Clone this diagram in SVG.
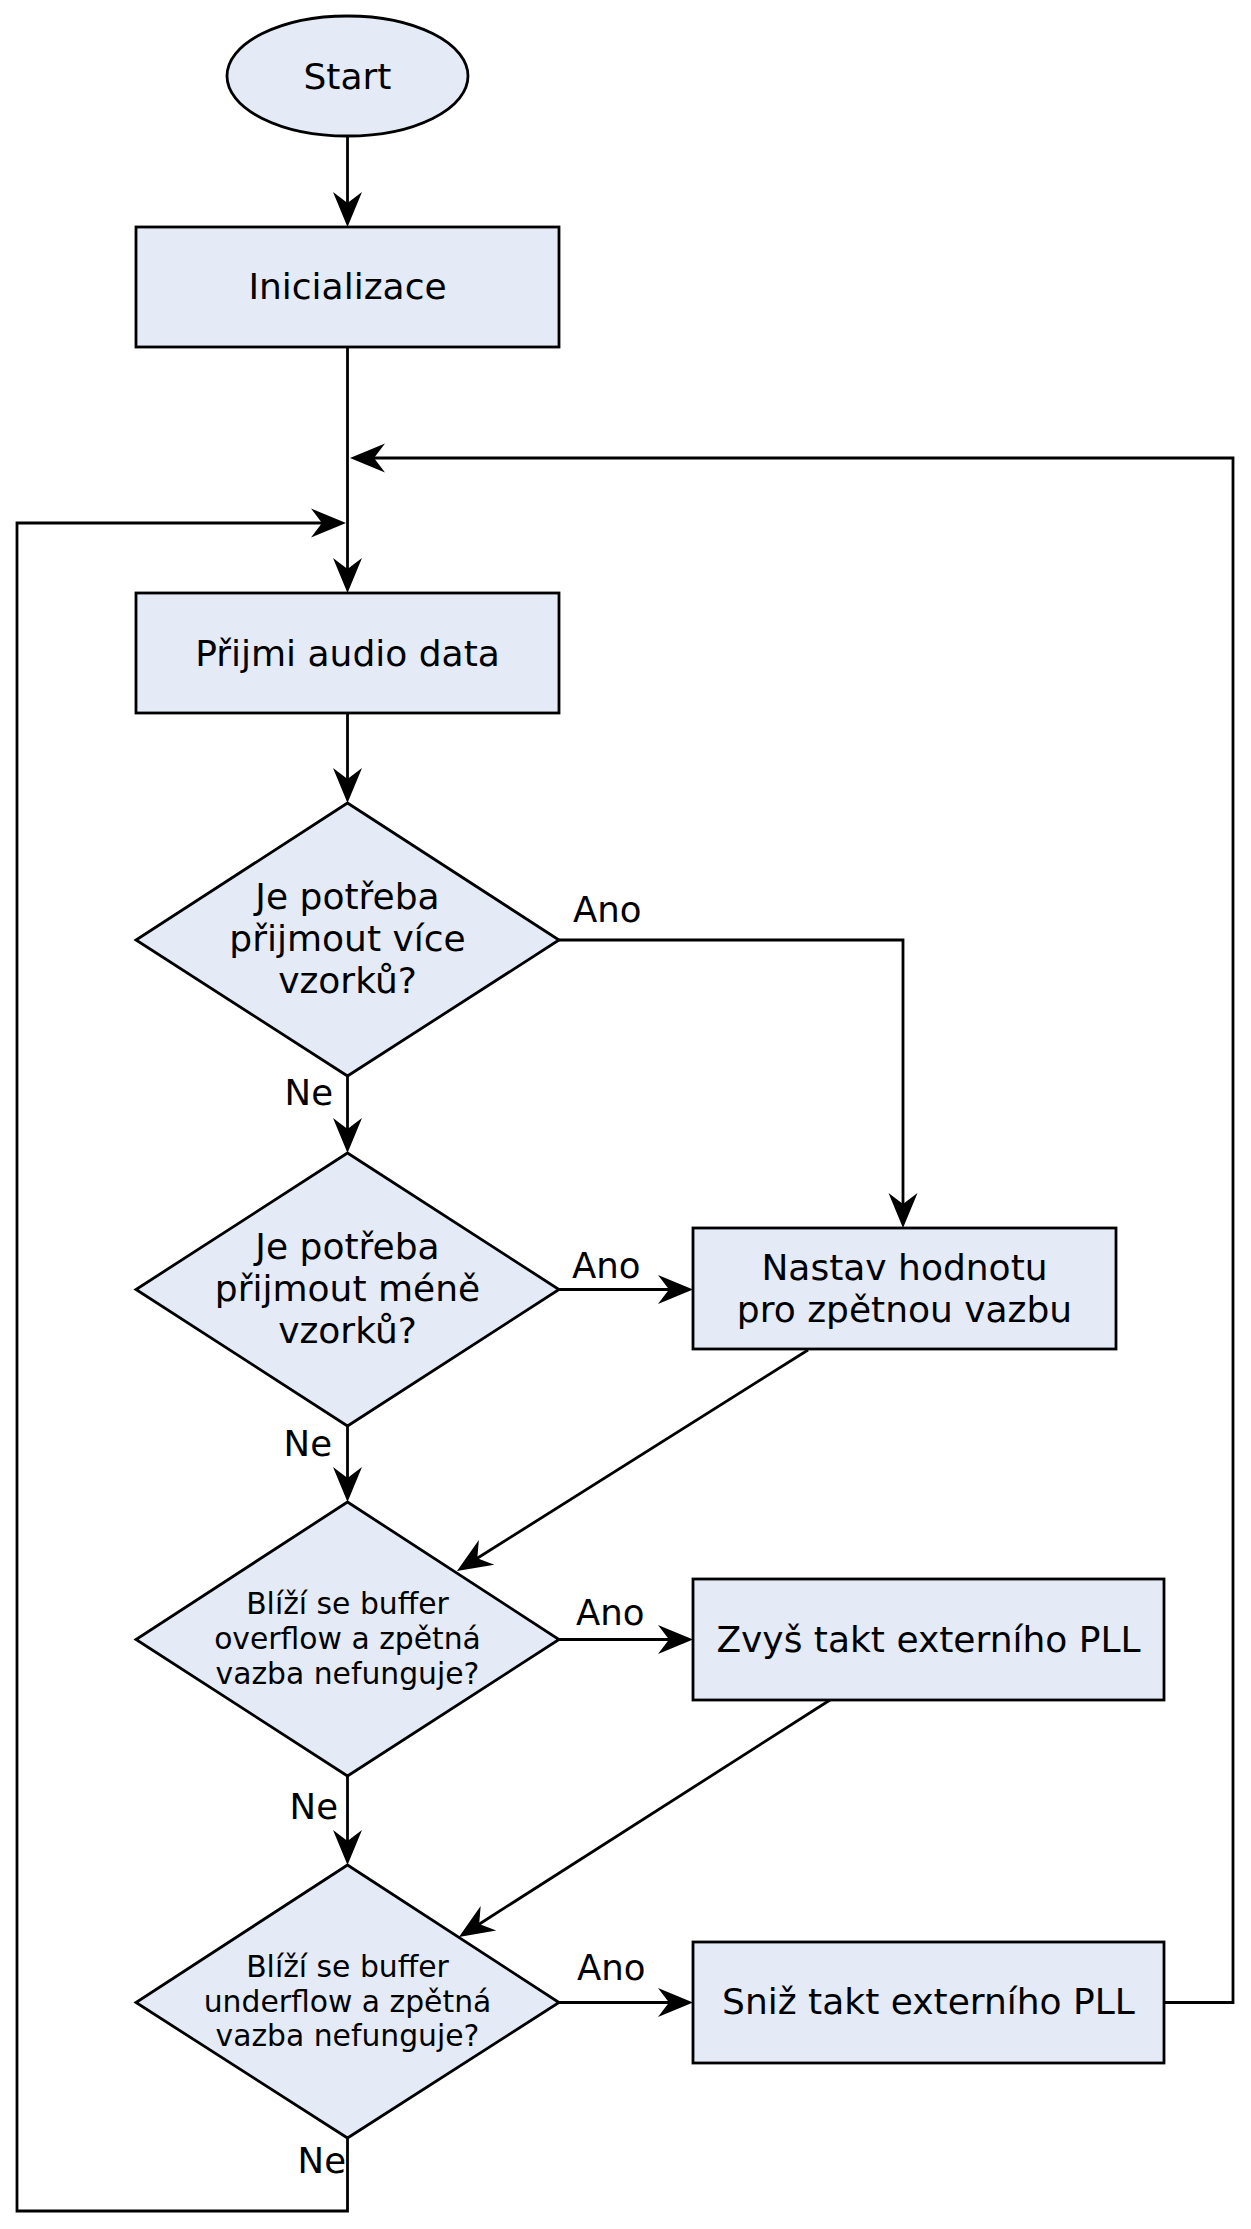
<svg xmlns="http://www.w3.org/2000/svg" width="1251" height="2229" viewBox="0 0 1251 2229">
<style>
.n{fill:#e4ebf6;stroke:#000;stroke-width:2.8}
.t{font-family:"DejaVu Sans",sans-serif;font-size:36px;fill:#000;text-anchor:middle}
.s{font-family:"DejaVu Sans",sans-serif;font-size:29.8px;fill:#000;text-anchor:middle}
.l{font-family:"DejaVu Sans",sans-serif;font-size:35.5px;fill:#000}
.c{fill:none;stroke:#000;stroke-width:2.8;marker-end:url(#ah)}
</style>
<defs>
<marker id="ah" markerUnits="userSpaceOnUse" viewBox="-36 -16 38 32" markerWidth="38" markerHeight="32" refX="-22" refY="0" orient="auto" overflow="visible">
<path d="M0,0 L-35,-14.5 L-24,0 L-35,14.5 Z" fill="#000"/>
</marker>
</defs>
<rect width="1251" height="2229" fill="#fff"/>
<g id="connectors">
<path class="c" d="M347.5,136 L347.5,205"/>
<path class="c" d="M347.5,347 L347.5,571"/>
<path class="c" d="M1164,2002.5 L1233,2002.5 L1233,458 L372,458"/>
<path class="c" d="M347.5,2138 L347.5,2211 L17,2211 L17,523 L324,523"/>
<path class="c" d="M347.5,713 L347.5,781"/>
<path class="c" d="M559,940 L903,940 L903,1206"/>
<path class="c" d="M347.5,1076 L347.5,1131"/>
<path class="c" d="M559,1289.5 L671,1289.5"/>
<path class="c" d="M347.5,1426 L347.5,1480"/>
<path class="c" d="M808,1350 L475.6,1559.3"/>
<path class="c" d="M559,1639.5 L671,1639.5"/>
<path class="c" d="M347.5,1776 L347.5,1843"/>
<path class="c" d="M830,1700 L477.5,1925.2"/>
<path class="c" d="M559,2002.5 L671,2002.5"/>
</g>
<g id="labels">
<text class="l" x="573" y="922">Ano</text>
<text class="l" x="333" y="1105" text-anchor="end">Ne</text>
<text class="l" x="572" y="1278">Ano</text>
<text class="l" x="332" y="1456" text-anchor="end">Ne</text>
<text class="l" x="576" y="1625">Ano</text>
<text class="l" x="338" y="1819" text-anchor="end">Ne</text>
<text class="l" x="577" y="1980">Ano</text>
<text class="l" x="346" y="2173" text-anchor="end">Ne</text>
</g>
<g id="start">
<ellipse class="n" cx="347.5" cy="76" rx="120.5" ry="60"/>
<text class="t" x="347.5" y="89">Start</text>
</g>
<g id="inicializace">
<rect class="n" x="136" y="227" width="423" height="120"/>
<text class="t" x="347.5" y="299">Inicializace</text>
</g>
<g id="prijmi">
<rect class="n" x="136" y="593" width="423" height="120"/>
<text class="t" x="347.5" y="666">Přijmi audio data</text>
</g>
<g id="d1">
<polygon class="n" points="347.5,803 559,940 347.5,1076 136,940"/>
<text class="t" x="347.5" y="909">Je potřeba</text>
<text class="t" x="347.5" y="951">přijmout více</text>
<text class="t" x="347.5" y="993">vzorků?</text>
</g>
<g id="d2">
<polygon class="n" points="347.5,1153 559,1289.5 347.5,1426 136,1289.5"/>
<text class="t" x="347.5" y="1259">Je potřeba</text>
<text class="t" x="347.5" y="1301">přijmout méně</text>
<text class="t" x="347.5" y="1343">vzorků?</text>
</g>
<g id="nastav">
<rect class="n" x="693" y="1228" width="423" height="121"/>
<text class="t" x="904.5" y="1280">Nastav hodnotu</text>
<text class="t" x="904.5" y="1322">pro zpětnou vazbu</text>
</g>
<g id="d3">
<polygon class="n" points="347.5,1502 559,1639.5 347.5,1776 136,1639.5"/>
<text class="s" x="347.5" y="1614">Blíží se buffer</text>
<text class="s" x="347.5" y="1649">overflow a zpětná</text>
<text class="s" x="347.5" y="1684">vazba nefunguje?</text>
</g>
<g id="zvys">
<rect class="n" x="693" y="1579" width="471" height="121"/>
<text class="t" x="928.5" y="1652">Zvyš takt externího PLL</text>
</g>
<g id="d4">
<polygon class="n" points="347.5,1865 559,2002.5 347.5,2138 136,2002.5"/>
<text class="s" x="347.5" y="1977">Blíží se buffer</text>
<text class="s" x="347.5" y="2012">underflow a zpětná</text>
<text class="s" x="347.5" y="2046">vazba nefunguje?</text>
</g>
<g id="sniz">
<rect class="n" x="693" y="1942" width="471" height="121"/>
<text class="t" x="928.5" y="2014">Sniž takt externího PLL</text>
</g>
</svg>
